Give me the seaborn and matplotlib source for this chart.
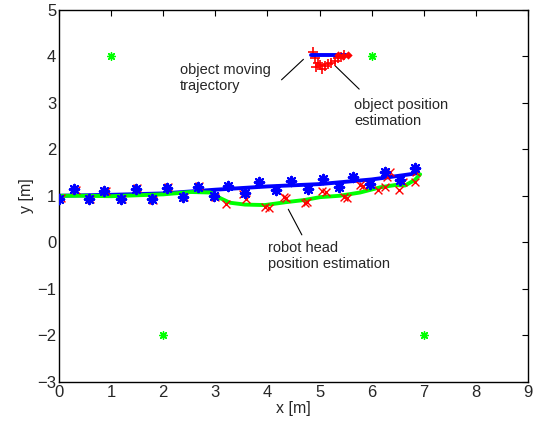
import numpy as np
import pandas as pd
import matplotlib
matplotlib.use("Agg")
import matplotlib.pyplot as plt
import seaborn as sns

# landmarks (green stars)
landmark_x = [1, 6, 2, 7]
landmark_y = [4, 4, -2, -2]

# robot head true positions (blue stars)
head_x = [0.00, 0.29, 0.57, 0.87, 1.18, 1.47, 1.78, 2.07, 2.38, 2.67, 2.97, 3.25,
          3.56, 3.84, 4.17, 4.46, 4.77, 5.07, 5.38, 5.65, 5.97, 6.25, 6.55, 6.83]
head_y = [0.94, 1.14, 0.92, 1.10, 0.92, 1.14, 0.92, 1.17, 0.97, 1.19, 0.99, 1.21,
          1.05, 1.29, 1.12, 1.32, 1.14, 1.35, 1.18, 1.41, 1.25, 1.50, 1.34, 1.59]

# robot head trajectory (blue line)
traj_x = [0.0, 1.0, 2.0, 2.5, 3.0, 4.0, 5.0, 6.0, 6.6, 6.85]
traj_y = [1.00, 1.02, 1.05, 1.09, 1.13, 1.20, 1.25, 1.35, 1.44, 1.48]

# robot head position estimation (green line)
est_x = [0.0, 0.5, 1.0, 1.5, 2.0, 2.53, 2.9, 3.09, 3.28, 3.57, 3.95, 4.34, 4.72,
         5.01, 5.39, 5.78, 6.16, 6.45, 6.64, 6.83, 6.93]
est_y = [1.00, 1.00, 0.99, 1.01, 1.03, 1.08, 1.07, 0.95, 0.85, 0.81, 0.80, 0.86, 0.91,
         0.97, 1.00, 1.07, 1.18, 1.23, 1.22, 1.34, 1.46]

# individual head estimates (red x)
meas_x = [0.03, 0.32, 0.59, 0.90, 1.20, 1.50, 1.80, 2.10, 2.40, 2.69, 2.99,
          3.21, 3.54, 3.58, 3.95, 4.02, 4.31, 4.36, 4.72, 4.75, 5.04, 5.12,
          5.46, 5.53, 5.78, 5.83, 6.13, 6.26, 6.29, 6.35, 6.53, 6.61, 6.83, 6.85]
meas_y = [0.95, 1.13, 0.93, 1.11, 0.93, 1.16, 0.91, 1.18, 0.98, 1.21, 0.97,
          0.82, 1.03, 0.93, 0.76, 0.73, 0.97, 0.95, 0.85, 0.86, 1.10, 1.09,
          0.97, 0.96, 1.23, 1.22, 1.12, 1.18, 1.41, 1.52, 1.12, 1.30, 1.30, 1.52]

# object
obj_traj_x = [4.83, 5.50]
obj_traj_y = [4.02, 4.02]
obj_est_x = [4.88, 4.92, 4.97, 4.93, 5.00, 5.05, 5.10, 5.16, 5.22, 5.30, 5.36, 5.42, 5.47]
obj_est_y = [4.08, 3.95, 3.85, 3.76, 3.80, 3.73, 3.78, 3.82, 3.86, 3.90, 3.95, 3.99, 4.02]
obj_end_x = [5.35, 5.45, 5.55]
obj_end_y = [4.02, 4.00, 4.02]

sns.set_style("white")
plt.rcParams['font.family'] = ['Liberation Sans', 'DejaVu Sans']

fig = plt.figure(figsize=(5.43, 4.28), dpi=100)
ax = fig.add_axes([0.1087, 0.1075, 0.8637, 0.8703])

sns.lineplot(x=traj_x, y=traj_y, sort=False, color='#0000ff', linewidth=2.8, ax=ax)
sns.lineplot(x=est_x, y=est_y, sort=False, color='#00ff00', linewidth=2.8, ax=ax)
sns.scatterplot(x=meas_x, y=meas_y, marker='x', color='#ff0000', s=32, linewidth=1.0, ax=ax, zorder=3)
sns.scatterplot(x=head_x, y=head_y, marker=(8, 2, 0), color='#0000ff', s=45, linewidth=1.6, ax=ax, zorder=4)
sns.scatterplot(x=landmark_x, y=landmark_y, marker=(8, 2, 0), color='#00ff00', s=30, linewidth=1.0, ax=ax, zorder=4)

sns.scatterplot(x=obj_est_x, y=obj_est_y, marker='+', color='#ff0000', s=55, linewidth=1.2, ax=ax, zorder=3)
sns.lineplot(x=obj_traj_x, y=obj_traj_y, sort=False, color='#0000ff', linewidth=2.8, ax=ax, zorder=4)
sns.scatterplot(x=obj_end_x, y=obj_end_y, marker='D', color='#ff0000', s=18, linewidth=0, ax=ax, zorder=5)

# annotations
ax.plot([4.27, 4.69], [3.49, 3.93], color='black', linewidth=0.8)
ax.plot([5.30, 5.76], [3.79, 3.29], color='black', linewidth=0.8)
ax.plot([4.40, 4.66], [0.71, 0.16], color='black', linewidth=0.8)
ax.text(2.32, 3.53, "object moving\ntrajectory", fontsize=10.5, va='center', ha='left', linespacing=1.15)
ax.text(5.66, 2.78, "object position\nestimation", fontsize=10.5, va='center', ha='left', linespacing=1.15)
ax.text(4.01, -0.29, "robot head\nposition estimation", fontsize=10.5, va='center', ha='left', linespacing=1.15)

ax.set_xlim(0, 9)
ax.set_ylim(-3, 5)
ax.set_xticks(range(0, 10))
ax.set_yticks(range(-3, 6))
ax.set_xlabel("x [m]", fontsize=11.5, labelpad=1)
ax.set_ylabel("y [m]", fontsize=11.5, labelpad=2)
ax.tick_params(direction='in', top=True, right=True, length=4, width=0.8,
               labelsize=12, color='black', pad=2)
for sp in ax.spines.values():
    sp.set_color('black')
    sp.set_linewidth(1.0)

fig.savefig("out.png", dpi=100)
